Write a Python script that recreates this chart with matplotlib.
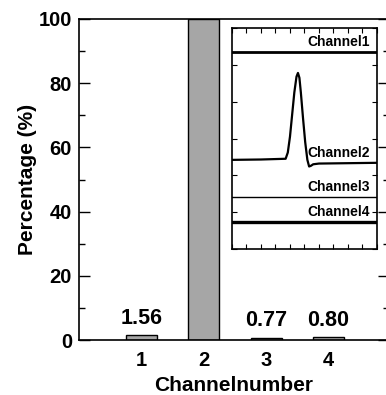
import matplotlib
matplotlib.use("Agg")
import matplotlib.pyplot as plt
import numpy as np

plt.rcParams['font.family'] = ['Liberation Sans', 'DejaVu Sans']
plt.rcParams['font.weight'] = 'bold'

channels = [1, 2, 3, 4]
percentages = [1.56, 100.0, 0.77, 0.80]
bar_labels = ["1.56", "", "0.77", "0.80"]
yticks = [0, 20, 40, 60, 80, 100]

# inset traces (x normalised time, y arbitrary offset units)
ch1_x = [0.0, 1.0]
ch1_y = [5.35, 5.35]
ch2_x = [0.0, 0.20, 0.37, 0.385, 0.40, 0.415, 0.43, 0.445, 0.455, 0.465, 0.475, 0.49, 0.505, 0.52, 0.532, 0.545, 0.56, 0.60, 1.0]
ch2_y = [2.42, 2.43, 2.45, 2.62, 3.05, 3.65, 4.25, 4.68, 4.78, 4.65, 4.25, 3.55, 2.90, 2.42, 2.24, 2.26, 2.30, 2.32, 2.34]
ch3_x = [0.0, 1.0]
ch3_y = [1.41, 1.41]
ch4_x = [0.0, 1.0]
ch4_y = [0.73, 0.73]
inset_labels = ["Channel1", "Channel2", "Channel3", "Channel4"]

fig = plt.figure(figsize=(3.86, 3.95), dpi=100)
ax = fig.add_axes([0.2047, 0.1392, 0.8031, 0.8127])

ax.bar(channels, percentages, width=0.5, color='#a6a6a6', edgecolor='black', linewidth=1.0, zorder=2)
for c, v, t in zip(channels, percentages, bar_labels):
    if t:
        ax.text(c, v + 2.0, t, ha='center', va='bottom', fontsize=15.5, fontweight='bold')

ax.set_xlim(0, 4.97)
ax.set_ylim(0, 100)
ax.set_xticks(channels)
ax.set_xticklabels([str(c) for c in channels])
ax.set_yticks(yticks)
ax.set_yticks([10, 30, 50, 70, 90], minor=True)
ax.tick_params(axis='y', which='major', direction='in', length=8, width=1.0, right=True, labelsize=14.5, pad=5)
ax.tick_params(axis='y', which='minor', direction='in', length=4.5, width=1.0, right=True)
ax.tick_params(axis='x', which='both', length=0, labelsize=14.5, pad=8)
for lab in ax.get_xticklabels() + ax.get_yticklabels():
    lab.set_fontweight('bold')
for s in ax.spines.values():
    s.set_linewidth(1.2)
ax.set_ylabel("Percentage (%)", fontsize=15, fontweight='bold', labelpad=1)
ax.set_xlabel("Channelnumber", fontsize=15, fontweight='bold', labelpad=4.5)

ins = fig.add_axes([0.601, 0.3696, 0.3756, 0.5595])
ins.plot(ch1_x, ch1_y, color='black', lw=2.0)
ins.plot(ch2_x, ch2_y, color='black', lw=1.6)
ins.plot(ch3_x, ch3_y, color='black', lw=1.0)
ins.plot(ch4_x, ch4_y, color='black', lw=2.4)
for lab, yv in zip(inset_labels, [ch1_y[0], ch2_y[-1], ch3_y[0], ch4_y[0]]):
    ins.text(0.952, yv + 0.08, lab, ha='right', va='bottom', fontsize=10, fontweight='bold')
ins.set_xlim(0, 1)
ins.set_ylim(0, 6)
ins.set_xticks(np.linspace(0, 1, 11))
ins.set_yticks(np.linspace(0, 6, 7))
ins.tick_params(which='both', direction='in', length=3.5, width=0.8, top=True, right=True,
                labelleft=False, labelbottom=False)
for s in ins.spines.values():
    s.set_linewidth(1.2)

fig.savefig("out.png", dpi=100)
